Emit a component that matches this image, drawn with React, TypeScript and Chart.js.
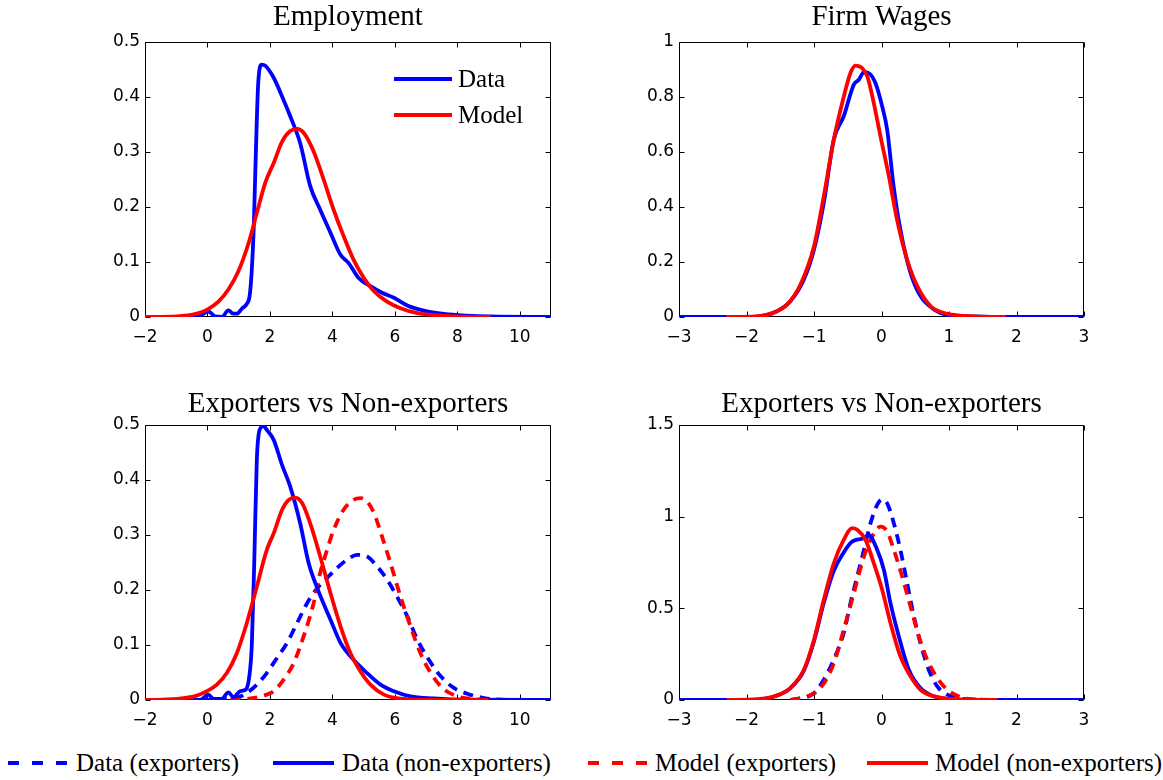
import React, { useEffect, useRef } from "react";
import { Chart, registerables } from "chart.js";

Chart.register(...registerables);

// ---------- Tick values ----------
const empXTicks = [-2, 0, 2, 4, 6, 8, 10];
const empYTicks = [0, 0.1, 0.2, 0.3, 0.4, 0.5];
const wageXTicks = [-3, -2, -1, 0, 1, 2, 3];
const wageYTicks = [0, 0.2, 0.4, 0.6, 0.8, 1];
const expWageYTicks = [0, 0.5, 1, 1.5];

// ---------- Panel 1: Employment ----------
const empDataX = [-2, -0.34, 0.03, 0.25, 0.46, 0.67, 0.83, 0.94, 1.1, 1.26, 1.35, 1.42, 1.48, 1.54, 1.63, 1.74, 1.85, 2.12, 2.39, 2.65, 2.97, 3.29, 3.61, 3.94, 4.26, 4.52, 4.84, 5.22, 5.59, 5.97, 6.4, 6.93, 7.57, 8.32, 9.07, 11];
const empDataY = [0, 0, 0.01, 0.001, 0, 0.012, 0.006, 0.006, 0.015, 0.024, 0.038, 0.086, 0.159, 0.28, 0.43, 0.459, 0.457, 0.435, 0.401, 0.365, 0.316, 0.238, 0.195, 0.153, 0.113, 0.098, 0.071, 0.056, 0.044, 0.035, 0.021, 0.0115, 0.0055, 0.0024, 0.001, 0];
const empModelX = [-2, -0.98, -0.34, -0.02, 0.35, 0.67, 0.99, 1.32, 1.58, 1.85, 2.12, 2.39, 2.65, 2.87, 3.08, 3.4, 3.72, 4.04, 4.36, 4.68, 5.01, 5.33, 5.75, 6.18, 6.72, 7.47, 8.32, 9.07];
const empModelY = [0, 0.001, 0.006, 0.013, 0.028, 0.05, 0.083, 0.135, 0.189, 0.244, 0.28, 0.319, 0.338, 0.342, 0.335, 0.301, 0.25, 0.195, 0.147, 0.104, 0.071, 0.047, 0.028, 0.016, 0.007, 0.0024, 0.0006, 0];

// ---------- Panel 2: Firm Wages ----------
const wageDataX = [-3, -2, -1.745, -1.55, -1.35, -1.15, -1.0, -0.855, -0.707, -0.56, -0.41, -0.336, -0.26, -0.19, -0.09, 0.01, 0.084, 0.18, 0.28, 0.43, 0.58, 0.78, 0.97, 1.37, 1.84, 3];
const wageDataY = [0, 0, 0.005, 0.021, 0.057, 0.136, 0.245, 0.415, 0.645, 0.73, 0.845, 0.863, 0.89, 0.887, 0.851, 0.766, 0.681, 0.475, 0.318, 0.16, 0.075, 0.027, 0.008, 0.002, 0, 0];
const wageModelX = [-2.3, -1.84, -1.6, -1.4, -1.2, -1.0, -0.855, -0.707, -0.56, -0.46, -0.386, -0.287, -0.21, -0.114, -0.015, 0.109, 0.23, 0.38, 0.53, 0.73, 0.97, 1.37, 1.84];
const wageModelY = [0, 0.002, 0.015, 0.045, 0.118, 0.257, 0.439, 0.645, 0.8, 0.887, 0.914, 0.905, 0.875, 0.778, 0.657, 0.512, 0.354, 0.208, 0.112, 0.039, 0.012, 0.002, 0];

// ---------- Panel 3: Exporters vs Non-exporters (employment) ----------
const empNonExpDataX = [-2, -0.24, 0.03, 0.19, 0.46, 0.67, 0.83, 1.05, 1.23, 1.34, 1.42, 1.5, 1.58, 1.67, 1.8, 1.9, 2.12, 2.39, 2.65, 2.97, 3.24, 3.56, 3.94, 4.26, 4.68, 5.11, 5.54, 5.97, 6.5, 7.25, 8.32, 11];
const empNonExpDataY = [0, 0, 0.0097, 0.002, 0.002, 0.014, 0.005, 0.016, 0.019, 0.043, 0.1, 0.255, 0.436, 0.491, 0.498, 0.491, 0.473, 0.427, 0.388, 0.321, 0.249, 0.197, 0.146, 0.104, 0.073, 0.049, 0.028, 0.016, 0.0067, 0.003, 0.0006, 0];
const empNonExpModelX = [-2, -0.98, -0.34, -0.02, 0.3, 0.62, 0.94, 1.26, 1.58, 1.9, 2.12, 2.39, 2.6, 2.81, 3.03, 3.29, 3.61, 3.94, 4.26, 4.58, 4.9, 5.22, 5.65, 6.18, 7.25, 9];
const empNonExpModelY = [0, 0.002, 0.008, 0.016, 0.028, 0.049, 0.085, 0.14, 0.206, 0.273, 0.303, 0.346, 0.364, 0.368, 0.358, 0.321, 0.261, 0.194, 0.134, 0.085, 0.052, 0.028, 0.0097, 0.0024, 0, 0];
const empExpDataX = [-0.24, 0.83, 1.26, 1.58, 1.9, 2.22, 2.55, 2.87, 3.19, 3.51, 3.83, 4.15, 4.47, 4.79, 5.11, 5.43, 5.75, 6.07, 6.4, 6.72, 7.09, 7.47, 7.89, 8.32, 8.86, 9.39, 10.57];
const empExpDataY = [0, 0.002, 0.013, 0.028, 0.049, 0.076, 0.104, 0.14, 0.176, 0.203, 0.222, 0.24, 0.255, 0.264, 0.261, 0.243, 0.219, 0.188, 0.152, 0.11, 0.073, 0.043, 0.022, 0.0115, 0.0036, 0.0006, 0];
const empExpModelX = [0.19, 1.26, 1.8, 2.12, 2.44, 2.76, 3.08, 3.4, 3.61, 3.83, 4.04, 4.36, 4.68, 4.9, 5.11, 5.33, 5.59, 5.86, 6.18, 6.5, 6.82, 7.15, 7.52, 8.0, 8.64, 9.07];
const empExpModelY = [0, 0.002, 0.008, 0.016, 0.037, 0.067, 0.116, 0.176, 0.231, 0.273, 0.309, 0.346, 0.364, 0.367, 0.361, 0.34, 0.297, 0.249, 0.188, 0.134, 0.085, 0.049, 0.022, 0.0067, 0.0012, 0];

// ---------- Panel 4: Exporters vs Non-exporters (wages) ----------
const wageNonExpDataX = [-3, -2, -1.745, -1.55, -1.35, -1.15, -1.0, -0.855, -0.707, -0.56, -0.45, -0.36, -0.26, -0.19, -0.064, 0.035, 0.133, 0.257, 0.405, 0.578, 0.776, 1.02, 1.47, 3];
const wageNonExpDataY = [0, 0, 0.005, 0.024, 0.065, 0.16, 0.32, 0.53, 0.705, 0.805, 0.86, 0.875, 0.882, 0.9, 0.819, 0.71, 0.528, 0.347, 0.165, 0.065, 0.02, 0.005, 0, 0];
const wageNonExpModelX = [-2.29, -1.84, -1.55, -1.35, -1.15, -1.0, -0.855, -0.707, -0.56, -0.435, -0.36, -0.237, -0.114, 0.01, 0.133, 0.28, 0.43, 0.578, 0.776, 1.07, 1.72];
const wageNonExpModelY = [0, 0.004, 0.024, 0.065, 0.165, 0.329, 0.547, 0.746, 0.873, 0.937, 0.928, 0.873, 0.746, 0.601, 0.42, 0.238, 0.129, 0.056, 0.02, 0.005, 0];
const wageExpDataX = [-1.35, -1.0, -0.855, -0.707, -0.56, -0.46, -0.36, -0.26, -0.163, -0.064, 0.01, 0.084, 0.183, 0.28, 0.38, 0.48, 0.578, 0.7, 0.826, 0.974, 1.12, 1.47, 1.72];
const wageExpDataY = [0, 0.038, 0.111, 0.22, 0.365, 0.528, 0.674, 0.819, 0.964, 1.064, 1.095, 1.073, 0.964, 0.819, 0.637, 0.456, 0.31, 0.165, 0.074, 0.029, 0.011, 0.002, 0];
const wageExpModelX = [-1.35, -1.1, -0.905, -0.707, -0.56, -0.41, -0.26, -0.138, -0.015, 0.084, 0.183, 0.306, 0.43, 0.553, 0.677, 0.826, 0.974, 1.17, 1.47, 1.72];
const wageExpModelY = [0, 0.02, 0.065, 0.2, 0.383, 0.583, 0.783, 0.892, 0.946, 0.919, 0.819, 0.674, 0.51, 0.347, 0.22, 0.12, 0.056, 0.016, 0.002, 0];

const BLUE = "#0000ff";
const RED = "#ff0000";
const DASH = [10, 7];
const TICK_FONT = "DejaVu Sans";
const SERIF = "'Liberation Serif', 'Times New Roman', serif";

const pts = (xs: number[], ys: number[]) => xs.map((x, i) => ({ x, y: ys[i] }));

const fmt = (v: number) => (v < 0 ? "\u2212" + String(-v) : String(v));

type DS = { xs: number[]; ys: number[]; color: string; dashed?: boolean; order: number };

const boxPlugin = {
  id: "matlabBox",
  beforeDatasetsDraw(chart: any) {
    const { ctx, chartArea: a, scales } = chart;
    const opts = chart.options.plugins.matlabBox || {};
    const L = Math.round(a.left) + 0.5;
    const R = Math.round(a.right) - 0.5;
    const T = Math.round(a.top) + 0.5;
    const B = Math.round(a.bottom) - 0.5;
    const tl = 5;
    ctx.save();
    ctx.strokeStyle = "#000";
    ctx.lineWidth = 1;
    ctx.beginPath();
    ctx.rect(L, T, R - L, B - T);
    (opts.xTicks || []).forEach((v: number) => {
      const px = Math.round(scales.x.getPixelForValue(v)) + 0.5;
      ctx.moveTo(px, B);
      ctx.lineTo(px, B - tl);
      ctx.moveTo(px, T);
      ctx.lineTo(px, T + tl);
    });
    (opts.yTicks || []).forEach((v: number) => {
      const py = Math.round(scales.y.getPixelForValue(v)) + 0.5;
      ctx.moveTo(L, py);
      ctx.lineTo(L + tl, py);
      ctx.moveTo(R, py);
      ctx.lineTo(R - tl, py);
    });
    ctx.stroke();
    ctx.restore();
  },
};

type PanelProps = {
  title: string;
  left: number;
  top: number;
  boxW: number;
  boxH: number;
  titlePad: number;
  xMin: number;
  xMax: number;
  xTicks: number[];
  yMax: number;
  yTicks: number[];
  series: DS[];
};

const Y_W = 60;
const X_H = 34;
const PAD_R = 20;
const TITLE_LH = 34;

function Panel(p: PanelProps) {
  const ref = useRef<HTMLCanvasElement | null>(null);
  const width = Y_W + p.boxW + PAD_R;
  const height = TITLE_LH + p.titlePad + p.boxH + X_H;
  useEffect(() => {
    if (!ref.current) return;
    const chart = new Chart(ref.current, {
      type: "line",
      data: {
        datasets: p.series.map((s) => ({
          data: pts(s.xs, s.ys),
          borderColor: s.color,
          backgroundColor: s.color,
          borderWidth: 3.8,
          borderDash: s.dashed ? DASH : [],
          pointRadius: 0,
          cubicInterpolationMode: "monotone",
          fill: false,
          order: s.order,
        })),
      },
      options: {
        responsive: false,
        animation: false,
        devicePixelRatio: 1,
        layout: { padding: { left: 0, right: PAD_R, top: 0, bottom: 0 } },
        plugins: {
          legend: { display: false },
          tooltip: { enabled: false },
          title: {
            display: true,
            text: p.title,
            fullSize: false,
            color: "#000",
            font: { family: SERIF, size: 29, weight: "normal", lineHeight: TITLE_LH + "px" },
            padding: { top: 0, bottom: p.titlePad },
          },
          matlabBox: { xTicks: p.xTicks, yTicks: p.yTicks },
        } as any,
        scales: {
          x: {
            type: "linear",
            min: p.xMin,
            max: p.xMax,
            afterBuildTicks: (s: any) => {
              s.ticks = p.xTicks.map((v) => ({ value: v }));
            },
            afterFit: (s: any) => {
              s.height = X_H;
            },
            grid: { display: false, drawTicks: false },
            border: { display: false },
            ticks: {
              color: "#000",
              font: { family: TICK_FONT, size: 17 },
              padding: 10,
              maxRotation: 0,
              autoSkip: false,
              callback: (v: any) => fmt(Number(v)),
            },
          },
          y: {
            type: "linear",
            min: 0,
            max: p.yMax,
            afterBuildTicks: (s: any) => {
              s.ticks = p.yTicks.map((v) => ({ value: v }));
            },
            afterFit: (s: any) => {
              s.width = Y_W;
            },
            grid: { display: false, drawTicks: false },
            border: { display: false },
            ticks: {
              color: "#000",
              font: { family: TICK_FONT, size: 17 },
              padding: 5,
              autoSkip: false,
              callback: (v: any) => fmt(Number(v)),
            },
          },
        },
      },
      plugins: [boxPlugin],
    } as any);
    return () => chart.destroy();
  }, []);
  return (
    <canvas
      ref={ref}
      width={width}
      height={height}
      style={{ position: "absolute", left: p.left - Y_W, top: p.top - TITLE_LH - p.titlePad, width, height }}
    />
  );
}

function Sample({ color, dashed, w }: { color: string; dashed?: boolean; w: number }) {
  return (
    <svg width={w} height={6} style={{ display: "block", flex: "none" }}>
      <line x1={0} y1={3} x2={w} y2={3} stroke={color} strokeWidth={4} strokeDasharray={dashed ? "11 13" : undefined} />
    </svg>
  );
}

function LegendItem({ left, top, color, dashed, label, w, gap }: { left: number; top: number; color: string; dashed?: boolean; label: string; w: number; gap: number }) {
  return (
    <div
      style={{
        position: "absolute",
        left,
        top: top - 15,
        height: 30,
        display: "flex",
        alignItems: "center",
        whiteSpace: "nowrap",
        fontFamily: SERIF,
        fontSize: 25,
        color: "#000",
      }}
    >
      <Sample color={color} dashed={dashed} w={w} />
      <span style={{ marginLeft: gap, lineHeight: "30px" }}>{label}</span>
    </div>
  );
}

export default function App() {
  return (
    <div style={{ position: "absolute", left: 0, top: 0, width: 1163, height: 780, background: "#fff", overflow: "hidden" }}>
      <Panel
        title="Employment"
        left={145}
        top={42}
        boxW={406}
        boxH={275}
        titlePad={8}
        xMin={-2}
        xMax={11}
        xTicks={empXTicks}
        yMax={0.5}
        yTicks={empYTicks}
        series={[
          { xs: empDataX, ys: empDataY, color: BLUE, order: 1 },
          { xs: empModelX, ys: empModelY, color: RED, order: 0 },
        ]}
      />
      <Panel
        title="Firm Wages"
        left={679}
        top={42}
        boxW={405}
        boxH={275}
        titlePad={8}
        xMin={-3}
        xMax={3}
        xTicks={wageXTicks}
        yMax={1}
        yTicks={wageYTicks}
        series={[
          { xs: wageDataX, ys: wageDataY, color: BLUE, order: 1 },
          { xs: wageModelX, ys: wageModelY, color: RED, order: 0 },
        ]}
      />
      <Panel
        title="Exporters vs Non-exporters"
        left={145}
        top={425}
        boxW={406}
        boxH={275}
        titlePad={4}
        xMin={-2}
        xMax={11}
        xTicks={empXTicks}
        yMax={0.5}
        yTicks={empYTicks}
        series={[
          { xs: empExpDataX, ys: empExpDataY, color: BLUE, dashed: true, order: 3 },
          { xs: empExpModelX, ys: empExpModelY, color: RED, dashed: true, order: 2 },
          { xs: empNonExpDataX, ys: empNonExpDataY, color: BLUE, order: 1 },
          { xs: empNonExpModelX, ys: empNonExpModelY, color: RED, order: 0 },
        ]}
      />
      <Panel
        title="Exporters vs Non-exporters"
        left={679}
        top={425}
        boxW={405}
        boxH={275}
        titlePad={4}
        xMin={-3}
        xMax={3}
        xTicks={wageXTicks}
        yMax={1.5}
        yTicks={expWageYTicks}
        series={[
          { xs: wageExpDataX, ys: wageExpDataY, color: BLUE, dashed: true, order: 3 },
          { xs: wageExpModelX, ys: wageExpModelY, color: RED, dashed: true, order: 2 },
          { xs: wageNonExpDataX, ys: wageNonExpDataY, color: BLUE, order: 1 },
          { xs: wageNonExpModelX, ys: wageNonExpModelY, color: RED, order: 0 },
        ]}
      />
      {/* In-plot legend, top-left panel */}
      <LegendItem left={394} top={79} color={BLUE} label="Data" w={58} gap={6} />
      <LegendItem left={394} top={115} color={RED} label="Model" w={58} gap={6} />
      {/* Shared legend at the bottom */}
      <LegendItem left={8} top={763} color={BLUE} dashed label="Data (exporters)" w={59} gap={9} />
      <LegendItem left={273} top={763} color={BLUE} label="Data (non-exporters)" w={61} gap={8} />
      <LegendItem left={588} top={763} color={RED} dashed label="Model (exporters)" w={59} gap={8} />
      <LegendItem left={867} top={763} color={RED} label="Model (non-exporters)" w={61} gap={7} />
    </div>
  );
}
